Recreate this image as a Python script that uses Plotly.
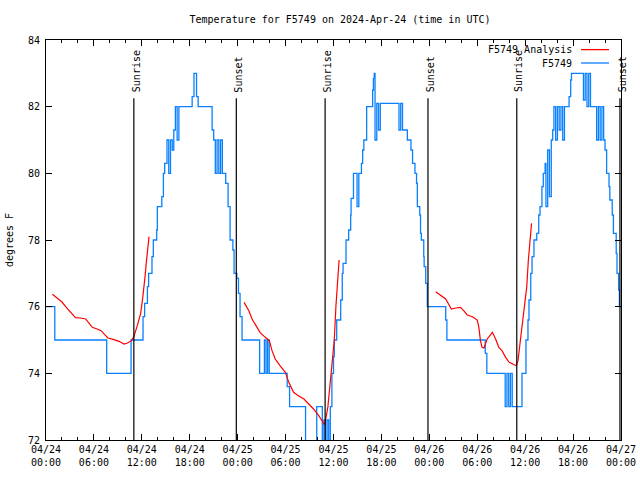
import plotly.graph_objects as go

# ---- data (hours since 2024-04-24 00:00 UTC) ----
obs_hours = [0, 1.1, 7.6, 10.65, 12.15, 12.35, 12.7, 12.85, 13.27, 13.44, 13.86, 13.94, 14.5, 14.7, 14.86,
             15.15, 15.37, 15.59, 15.81, 16.0, 16.2, 16.42, 16.64, 18.3, 18.53, 18.85,
             19.05, 20.8, 21.0, 21.2, 21.42, 21.64, 21.86, 22.08, 22.5, 22.8,
             23.05, 23.4, 23.55, 23.9, 24.1, 24.3, 24.55,
             26.75, 27.35, 27.55, 27.75, 27.95, 30.2, 30.5, 32.5, 33.9, 34.6, 34.8, 35.0, 35.2, 35.4,
             35.6, 35.8, 36.0, 36.1, 36.4, 36.9, 37.1, 37.2, 37.57, 37.9, 38.15, 38.2, 38.5, 38.95,
             39.17, 39.5, 39.65, 39.8, 40.15, 40.9, 41.0, 41.1, 41.2, 41.42, 41.64, 41.86,
             44.2, 44.42, 44.64, 45.25, 45.7, 45.9, 46.2, 46.4,
             46.5, 46.8, 46.9, 47.0, 47.3, 47.35, 47.55, 47.75,
             50.05, 50.2, 55.0, 55.2, 57.5, 57.72, 57.94, 58.16, 58.38, 59.6, 60.1, 60.35,
             60.48, 60.7, 60.86, 61.1, 61.45, 61.7, 61.86, 62.1, 62.27, 62.5, 62.6, 62.82, 63.04,
             63.27, 63.45, 63.6, 63.82, 64.04, 64.26, 64.48, 64.7, 64.92, 65.5,
             65.7, 65.8, 67.3, 67.52, 67.74, 67.96, 68.18, 68.95, 69.17, 69.39, 69.61, 69.83,
             70.0, 70.2, 70.5, 70.6, 70.9, 71.05, 71.4, 71.5, 71.7, 71.8, 72.0]
obs_temps = [76.0, 75.0, 74.0, 75.0, 75.7, 76.1, 76.6, 77.0, 77.5, 78.0, 78.3, 79.0, 79.3, 80.0, 80.3,
             81.0, 80.0, 81.0, 80.7, 81.3, 82.0, 81.0, 82.0, 82.3, 83.0, 82.3,
             82.0, 81.3, 81.0, 80.0, 81.0, 80.0, 81.0, 80.0, 79.7, 79.0,
             78.0, 77.7, 77.0, 76.85, 76.4, 75.7, 75.0,
             74.0, 75.0, 74.0, 75.0, 74.0, 73.6, 73.0, 71.5, 73.0, 71.5, 72.6, 71.5, 72.6, 71.5,
             73.0, 74.0, 74.5, 75.0, 75.6, 76.2, 77.0, 77.3, 78.0, 78.3, 78.75, 79.25, 80.0, 79.0,
             80.0, 80.3, 80.7, 81.0, 82.0, 82.5, 82.85, 83.0, 81.0, 82.1, 81.3, 82.1,
             81.3, 82.1, 81.3, 81.0, 80.7, 80.3, 80.0, 79.7,
             79.0, 78.75, 78.2, 78.0, 77.5, 77.2, 76.7, 76.0,
             75.6, 75.0, 74.6, 74.0, 73.0, 74.0, 73.0, 74.0, 73.0, 74.0, 75.0, 75.6,
             76.2, 77.0, 77.5, 78.0, 78.2, 78.75, 79.0, 79.6, 80.0, 80.3, 79.0, 80.7, 79.3,
             81.0, 81.3, 82.0, 81.0, 82.0, 81.3, 82.0, 81.0, 82.0, 82.3,
             82.8, 83.0, 82.2, 83.0, 82.0, 83.0, 82.0, 81.0, 82.0, 81.0, 82.0, 81.0,
             80.7, 80.0, 79.6, 79.2, 78.75, 78.2, 77.6, 77.0, 76.5, 76.0, 76.0]

ana1_hours = [0.8, 1.4, 2.0, 2.67, 3.3, 3.7, 4.3, 4.97, 5.4, 5.8, 6.4, 6.9, 7.35, 7.76, 8.5, 9.14, 9.77,
              10.2, 10.7, 11.0, 11.43, 11.85, 12.1, 12.27, 12.4, 12.55, 12.7, 12.9]
ana1_temps = [76.37, 76.24, 76.14, 75.94, 75.79, 75.67, 75.66, 75.63, 75.5, 75.38, 75.33, 75.28, 75.16,
              75.06, 75.01, 74.96, 74.88, 74.91, 74.98, 75.1, 75.43, 75.79, 76.24, 76.57, 76.9, 77.3,
              77.7, 78.1]
ana2_hours = [24.8, 25.4, 25.8, 26.4, 26.8, 27.46, 27.96, 28.3, 28.7, 29.3, 29.97, 30.4, 31.0, 31.6,
              32.3, 32.9, 33.5, 34.15, 34.56, 34.9, 35.3, 35.6, 35.9, 36.1, 36.3, 36.5, 36.7]
ana2_temps = [76.13, 75.88, 75.63, 75.38, 75.23, 75.08, 74.98, 74.68, 74.43, 74.23, 74.03, 73.73, 73.43,
              73.33, 73.23, 73.08, 72.93, 72.73, 72.58, 72.45, 73.0, 73.8, 74.5, 75.0, 76.0, 76.7, 77.4]
ana3_hours = [48.8, 49.2, 49.6, 50.05, 50.46, 50.75, 51.3, 51.9, 52.3, 52.75, 53.4, 54.0, 54.2, 54.4,
              54.6, 54.85, 55.25, 55.7, 55.9, 56.3, 56.7, 57.1, 57.55, 58.0, 58.4, 58.9, 59.1, 59.35,
              59.65, 60.0, 60.2, 60.4, 60.6, 60.8]
ana3_temps = [76.45, 76.38, 76.31, 76.23, 76.06, 75.93, 75.96, 75.98, 75.88, 75.75, 75.7, 75.6, 75.38,
              74.98, 74.78, 74.76, 75.03, 75.18, 75.23, 75.03, 74.78, 74.68, 74.48, 74.33, 74.28,
              74.23, 74.38, 74.88, 75.45, 76.1, 76.6, 77.4, 78.0, 78.5]

sunrise_hours = [11.0, 34.95, 58.95]
sunset_hours = [23.83, 47.83, 71.87]

tick_hours = [0, 6, 12, 18, 24, 30, 36, 42, 48, 54, 60, 66, 72]
tick_labels = ["04/24<br>00:00", "04/24<br>06:00", "04/24<br>12:00", "04/24<br>18:00",
               "04/25<br>00:00", "04/25<br>06:00", "04/25<br>12:00", "04/25<br>18:00",
               "04/26<br>00:00", "04/26<br>06:00", "04/26<br>12:00", "04/26<br>18:00",
               "04/27<br>00:00"]
minor_hours = [h for h in range(0, 73, 2) if h % 6 != 0]
y_ticks = [72, 74, 76, 78, 80, 82, 84]

FONT = "DejaVu Sans Mono"
BLUE = "#0a80ff"
RED = "#ff0000"

ana_x = ana1_hours + [None] + ana2_hours + [None] + ana3_hours
ana_y = ana1_temps + [None] + ana2_temps + [None] + ana3_temps

fig = go.Figure()
fig.add_trace(go.Scatter(x=obs_hours, y=obs_temps, mode="lines", name="F5749",
                         line=dict(color=BLUE, width=1.3, shape="hv", simplify=False),
                         showlegend=False))
fig.add_trace(go.Scatter(x=ana_x, y=ana_y, mode="lines", name="F5749 Analysis",
                         line=dict(color=RED, width=1.2), connectgaps=False, showlegend=False))

LINE_TOP = 82.25
annotations = []
shapes = []
for label, hours in (("Sunrise", sunrise_hours), ("Sunset", sunset_hours)):
    for h in hours:
        shapes.append(dict(type="line", xref="x", yref="y", x0=h, x1=h, y0=72, y1=LINE_TOP,
                           line=dict(color="black", width=1.2)))
        annotations.append(dict(x=h, y=LINE_TOP, xref="x", yref="y", text=label, textangle=-90,
                                showarrow=False, xanchor="center", yanchor="bottom", xshift=2,
                                yshift=4, font=dict(family=FONT, size=10, color="black")))

# legend (gnuplot style: text then sample line)
for name, color, ypos in (("F5749 Analysis", RED, 0.976), ("F5749", BLUE, 0.9425)):
    annotations.append(dict(x=0.9183, y=ypos, xref="paper", yref="paper", text=name,
                            showarrow=False, xanchor="right", yanchor="middle",
                            font=dict(family=FONT, size=10, color="black")))
    shapes.append(dict(type="line", xref="paper", yref="paper", x0=0.9304, x1=0.9791,
                       y0=ypos, y1=ypos, line=dict(color=color, width=1.3)))

fig.update_layout(
    width=640, height=480,
    margin=dict(l=46, r=19, t=40, b=40),
    paper_bgcolor="white", plot_bgcolor="white",
    title=dict(text="Temperature for F5749 on 2024-Apr-24 (time in UTC)", x=340 / 640,
               xref="container", xanchor="center", y=1 - 19 / 480, yanchor="middle",
               font=dict(family=FONT, size=10, color="black")),
    annotations=annotations, shapes=shapes,
    showlegend=False,
)
fig.update_xaxes(range=[0, 72], tickmode="array", tickvals=tick_hours, ticktext=tick_labels,
                 ticks="inside", ticklen=6, tickcolor="black", showline=True, linecolor="black",
                 linewidth=1, mirror="ticks", showgrid=False, zeroline=False, automargin=False,
                 tickfont=dict(family=FONT, size=10, color="black"),
                 minor=dict(tickmode="array", tickvals=minor_hours, ticks="inside", ticklen=3,
                            tickcolor="black", showgrid=False))
fig.update_yaxes(range=[72, 84], tickmode="array", tickvals=y_ticks,
                 ticks="inside", ticklen=6, tickcolor="black", showline=True, linecolor="black",
                 linewidth=1, mirror="ticks", showgrid=False, zeroline=False, automargin=False,
                 ticklabelstandoff=3,
                 tickfont=dict(family=FONT, size=10, color="black"),
                 title=dict(text="degrees F", standoff=12, font=dict(family=FONT, size=10, color="black")))

fig.write_html("out.html", config={"displayModeBar": False},
               post_script="document.body.style.margin='0';")
